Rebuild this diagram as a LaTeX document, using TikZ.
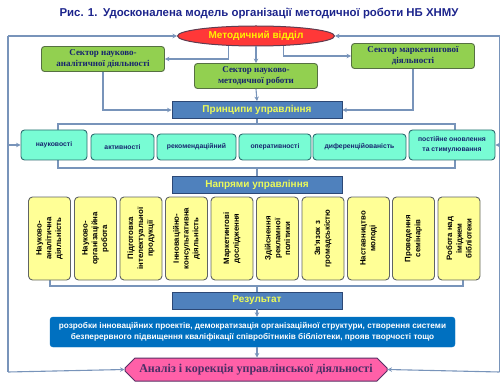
\documentclass[tikz,border=0pt]{standalone}
\usepackage{fontspec}
\setmainfont{Liberation Sans}
\newfontfamily\serifcyr{Liberation Serif}
\usetikzlibrary{shapes.geometric,shapes.misc,arrows.meta}
\definecolor{lineblue}{RGB}{120,148,186}
\definecolor{titleblue}{RGB}{28,36,140}
\definecolor{navy}{RGB}{22,36,110}
\definecolor{headblue}{RGB}{79,129,189}
\definecolor{headline}{RGB}{44,72,118}
\definecolor{headtext}{RGB}{236,250,90}
\definecolor{sectgreen}{RGB}{146,208,80}
\definecolor{sectline}{RGB}{86,112,66}
\definecolor{aqua}{RGB}{120,252,212}
\definecolor{aqualine}{RGB}{46,108,112}
\definecolor{paleyellow}{RGB}{255,255,150}
\definecolor{yelline}{RGB}{96,100,100}
\definecolor{resblue}{RGB}{0,112,192}
\definecolor{pinkbox}{RGB}{255,96,168}
\definecolor{pinkline}{RGB}{88,48,100}
\definecolor{ovalred}{RGB}{255,56,56}
\definecolor{ovalline}{RGB}{96,60,80}
\tikzset{
  link/.style={draw=lineblue,line width=1.1pt,-{Stealth[length=4.5pt,width=4.5pt]}},
  bare/.style={draw=lineblue,line width=1.1pt},
  sector/.style={draw=sectline,fill=sectgreen,line width=0.9pt,rounded corners=3pt,
    minimum width=123pt,minimum height=25pt,inner sep=1pt,align=center,text=navy,
    font=\serifcyr\bfseries\fontsize{9}{10.5}\selectfont},
  head/.style={draw=headline,fill=headblue,line width=0.9pt,minimum width=170pt,
    minimum height=17pt,inner sep=1pt,text=headtext,font=\bfseries\fontsize{10}{11}\selectfont},
  princ/.style={draw=aqualine,fill=aqua,line width=0.9pt,rounded corners=3.5pt,
    minimum height=26pt,inner sep=1pt,align=center,text=navy,
    font=\bfseries\fontsize{6.8}{10}\selectfont},
  direct/.style={draw=yelline,fill=paleyellow,line width=0.9pt,rounded corners=4pt,
    rotate=90,minimum width=83pt,minimum height=42pt,inner sep=1pt,align=center,
    font=\bfseries\fontsize{7.8}{9.8}\selectfont}
}
\begin{document}
\begin{tikzpicture}[x=1pt,y=-1pt]
\useasboundingbox (0,0) rectangle (500,382);
\node[text=titleblue,font=\bfseries\fontsize{11.4}{13}\selectfont] (T) at (259,14) {Рис. 1.\enspace Удосконалена модель організації методичної роботи НБ ХНМУ};
% outer loop
\coordinate (c1) at (8,36);
\coordinate (c2) at (8,372);
\coordinate (c3) at (499.5,36);
\coordinate (c4) at (499.5,372);
\draw[bare] (c1) -- (c2);
\draw[bare] (c3) -- (c4);
% brackets
\coordinate (b1) at (58,124);
\coordinate (b2) at (455,124);
\coordinate (b3) at (58,168);
\coordinate (b4) at (455,168);
\draw[bare] (b1) -- (b2) -- (b4) -- (b3) -- cycle;
\coordinate (d1) at (50,250);
\coordinate (d2) at (463,250);
\draw[bare] (d1) |- (257,286) -| (d2);
% top part
\node[ellipse,draw=ovalline,fill=ovalred,line width=1pt,minimum width=157pt,minimum height=20pt,inner sep=0pt,text=yellow,font=\bfseries\fontsize{10}{12}\selectfont] (MV) at (256,36) {Методичний відділ};
\node[sector] (SA) at (103,59) {Сектор науково-\\аналітичної діяльності};
\node[sector] (SM) at (256,76) {Сектор науково-\\методичної роботи};
\node[sector] (SK) at (413,56) {Сектор маркетингової\\діяльності};
\node[head] (PU) at (257,110) {Принципи управління};
\draw[link] (MV.200) |- (SA.east);
\draw[link] (MV.340) |- (SK.west);
\draw[link] (MV.south) -- (SM.north);
\draw[link] (SA.south) |- (PU.west);
\draw[link] (SK.south) |- (PU.east);
\draw[link] (SM.south) -- (PU.north);
\draw[link] (c1) -- (MV.west);
\draw[link] (c3) -- (MV.east);
% principles
\draw[bare] (PU.south) -- (PU.south |- b1);
\node[princ,minimum width=66pt,minimum height=30pt] (p1) at (54,145) {науковості};
\node[princ,minimum width=63pt] (p2) at (122.5,147) {активності};
\node[princ,minimum width=79pt] (p3) at (196.5,147) {рекомендаційний};
\node[princ,minimum width=72pt] (p4) at (275,147) {оперативності};
\node[princ,minimum width=93pt] (p5) at (359.5,147) {диференційованість};
\node[princ,minimum width=86pt,minimum height=30pt] (p6) at (452,145) {постійне оновлення\\та стимулювання};
\draw[link] (p1.west -| c1) -- (p1.west);
\draw[link] (p6.east -| c3) -- (p6.east);
% directions
\node[head] (NU) at (257,184.5) {Напрями управління};
\draw[bare] (NU.north |- b3) -- (NU.north);
\node[direct] (n1) at (49.5,238.5) {Науково-\\аналітична\\діяльність};
\node[direct] (n2) at (95.5,238.5) {Науково-\\організаційна\\робота};
\node[direct] (n3) at (141,238.5) {Підготовка\\інтелектуальної\\продукції};
\node[direct] (n4) at (186.5,238.5) {Інноваційно-\\консультативна\\діяльність};
\node[direct] (n5) at (232,238.5) {Маркетингові\\дослідження};
\node[direct] (n6) at (277.5,238.5) {Здійснення\\рекламної\\політики};
\node[direct] (n7) at (323,238.5) {Зв’язок з\\громадськістю};
\node[direct] (n8) at (368.5,238.5) {Наставництво\\молоді};
\node[direct] (n9) at (413.5,238.5) {Проведення\\семінарів};
\node[direct] (n10) at (459,238.5) {Робота над\\іміджем\\бібліотеки};
% result
\node[head] (RZ) at (257,300.5) {Результат};
\draw[bare] (RZ.north |- 0,286) -- (RZ.north);
\node[draw=resblue,fill=resblue,rounded corners=3pt,minimum width=405pt,minimum height=30pt,inner sep=1pt,align=center,text=white,font=\bfseries\fontsize{8.2}{11}\selectfont] (RT) at (252.5,332) {розробки інноваційних проектів, демократизація організаційної структури, створення системи\\безперервного підвищення кваліфікації співробітників бібліотеки, прояв творчості тощо};
\node[chamfered rectangle,chamfered rectangle xsep=5pt,chamfered rectangle ysep=5pt,draw=pinkline,fill=pinkbox,line width=1pt,minimum width=262pt,minimum height=23pt,inner sep=1pt,text=pinkline!80!navy,font=\serifcyr\bfseries\fontsize{12}{14}\selectfont] (AK) at (256,369.5) {Аналіз і корекція управлінської діяльності};
\draw[link] (RZ.south) -- (RZ.south |- RT.north);
\draw[link] (RZ.south |- RT.south) -- (RZ.south |- AK.north);
\draw[link] (c2) -- (AK.west);
\draw[link] (c4) -- (AK.east);
\end{tikzpicture}
\end{document}
